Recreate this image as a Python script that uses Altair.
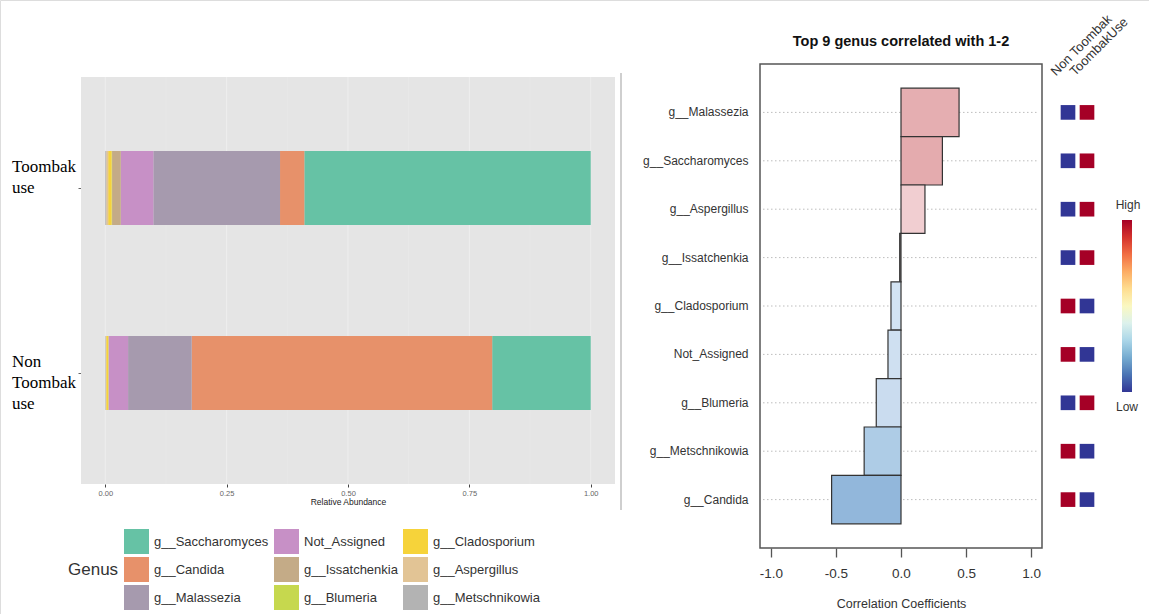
import altair as alt
import pandas as pd

# ---------------- relative abundance (stacked bars) ----------------
groups = ["Toombak use", "Non Toombak use"]
group_labels = ["Toombak\nuse", "Non\nToombak\nuse"]
genera = ["g__Saccharomyces", "g__Candida", "g__Malassezia", "Not_Assigned",
          "g__Issatchenkia", "g__Blumeria", "g__Cladosporium", "g__Aspergillus",
          "g__Metschnikowia"]
abundance_use = [0.590, 0.050, 0.261, 0.067, 0.018, 0.001, 0.007, 0.004, 0.002]
abundance_non = [0.203, 0.619, 0.131, 0.040, 0.0005, 0.0005, 0.004, 0.001, 0.001]
genus_colors = ["#66C2A5", "#E7916A", "#A69AAE", "#C790C6", "#C4AB87",
                "#C6D84E", "#F6D33A", "#E2C495", "#B3B3B3"]
abundance_ticks = [0.0, 0.25, 0.5, 0.75, 1.0]
abundance_minor = [0.125, 0.375, 0.625, 0.875]

# ---------------- correlation panel ----------------
corr_genera = ["g__Malassezia", "g__Saccharomyces", "g__Aspergillus", "g__Issatchenkia",
               "g__Cladosporium", "Not_Assigned", "g__Blumeria", "g__Metschnikowia",
               "g__Candida"]
corr_values = [0.446, 0.318, 0.184, -0.010, -0.077, -0.100, -0.190, -0.283, -0.533]
corr_fills = ["#E5AEB1", "#E4ABAE", "#F1CED1", "#F5E0E2", "#D2E3F3",
              "#CFE0F1", "#CADCEF", "#AECCE6", "#92B7DB"]
corr_ticks = [-1.0, -0.5, 0.0, 0.5, 1.0]
heat_columns = ["Non Toombak", "ToombakUse"]
heat_non = [0, 0, 0, 0, 1, 1, 0, 1, 1]
heat_use = [1, 1, 1, 1, 0, 0, 1, 0, 0]

# ---------------- layout (pixels) ----------------
CANVAS_W, CANVAS_H = 1149, 614
L_X0, L_X1, L_Y0, L_Y1 = 81, 615, 77, 484
R_X0, R_X1, R_Y0, R_Y1 = 760, 1042, 64, 548
SANS = "Liberation Sans"

one = pd.DataFrame({"k": [0]})

# ---- left panel data ----
ab_rows = []
for g, vals in zip(groups, [abundance_use, abundance_non]):
    for i, (gen, v) in enumerate(zip(genera, vals)):
        ab_rows.append({"group": g, "genus": gen, "value": v,
                        "stack": len(genera) - 1 - i})
ab_df = pd.DataFrame(ab_rows)

x_ab = alt.Scale(domain=[-0.05, 1.05], range=[L_X0, L_X1], nice=False, zero=False)
y_ab = alt.Scale(domain=groups, range=[L_Y0, L_Y1], paddingInner=0.6, paddingOuter=0.4)

ab_x_axis = alt.Axis(orient="bottom", offset=L_Y1 - CANVAS_H, values=abundance_ticks,
                     format=".2f", grid=False, domain=False, tickSize=3,
                     tickColor="#444", labelFontSize=7.5, labelColor="#666",
                     labelPadding=2, labelFlush=False, title="Relative Abundance",
                     titleFontSize=8.5, titleFontWeight="normal", titleColor="#222",
                     titlePadding=1, labelFont=SANS, titleFont=SANS)
ab_y_axis = alt.Axis(orient="left", offset=-L_X0, labels=False, domain=False,
                     tickSize=3, tickColor="#666", title=None, grid=False)

panel_bg = alt.Chart(one).mark_rect(fill="#E5E5E5").encode(
    x=alt.value(L_X0), x2=alt.value(L_X1), y=alt.value(L_Y0), y2=alt.value(L_Y1))

grid_major = alt.Chart(pd.DataFrame({"v": abundance_ticks})).mark_rule(
    color="#EEEEEE", strokeWidth=1).encode(
    x=alt.X("v:Q", scale=x_ab, axis=ab_x_axis), y=alt.value(L_Y0), y2=alt.value(L_Y1))
grid_minor = alt.Chart(pd.DataFrame({"v": abundance_minor})).mark_rule(
    color="#E9E9E9", strokeWidth=0.6).encode(
    x=alt.X("v:Q", scale=x_ab, axis=ab_x_axis), y=alt.value(L_Y0), y2=alt.value(L_Y1))

ab_bars = alt.Chart(ab_df).mark_bar().encode(
    x=alt.X("value:Q", stack="zero", scale=x_ab, axis=ab_x_axis),
    y=alt.Y("group:N", scale=y_ab, axis=ab_y_axis),
    color=alt.Color("genus:N", scale=alt.Scale(domain=genera, range=genus_colors),
                    legend=alt.Legend(orient="none", legendX=68, legendY=529, columns=3,
                                      title="Genus", titleOrient="left", titleAnchor="middle",
                                      titleBaseline="middle", titleFontSize=17,
                                      titleFontWeight="normal", titleColor="#333",
                                      titlePadding=5, titleFont=SANS,
                                      symbolType="square", symbolSize=625,
                                      symbolStrokeWidth=0, symbolOpacity=1,
                                      labelFontSize=13, labelColor="#333", labelFont=SANS,
                                      labelOffset=5, rowPadding=3, columnPadding=5)),
    order=alt.Order("stack:Q", sort="ascending"),
)

lab_df = pd.DataFrame({"group": groups, "label": group_labels})
label_style = dict(align="left", baseline="middle", font="Liberation Serif", fontSize=17,
                   lineBreak="\n", lineHeight=21, color="#000")
lab_top = alt.Chart(lab_df).transform_filter(alt.datum.group == groups[0]).mark_text(
    dy=-21, **label_style).encode(
    x=alt.value(12), y=alt.Y("group:N", scale=y_ab, axis=ab_y_axis), text="label:N")
lab_bottom = alt.Chart(lab_df).transform_filter(alt.datum.group == groups[1]).mark_text(
    dy=-11, **label_style).encode(
    x=alt.value(12), y=alt.Y("group:N", scale=y_ab, axis=ab_y_axis), text="label:N")

separator = alt.Chart(one).mark_rule(color="#CFCFCF", strokeWidth=2).encode(
    x=alt.value(621), y=alt.value(73), y2=alt.value(510))

left = alt.layer(panel_bg, grid_minor, grid_major, ab_bars, lab_top, lab_bottom, separator)

# ---- right panel: correlation bars ----
corr_df = pd.DataFrame({"genus": corr_genera, "r": corr_values})
x_r = alt.Scale(domain=[-1.083, 1.083], range=[R_X0, R_X1], nice=False, zero=False)
y_r = alt.Scale(type="band", domain=corr_genera, range=[R_Y0, R_Y1],
                paddingInner=0, paddingOuter=0.5)

minus_fix = "replace(format(datum.value, '.1f'), '\u2212', '-')"
r_x_axis = alt.Axis(orient="bottom", offset=R_Y1 - CANVAS_H, values=corr_ticks,
                    labelExpr=minus_fix, grid=False, domain=False, tickSize=9,
                    tickColor="#555", tickWidth=1.3, labelFontSize=13.5,
                    labelColor="#333", labelPadding=9, labelFlush=False,
                    labelFont=SANS, title="Correlation Coefficients",
                    titleFontSize=12.5, titleFontWeight="normal", titleColor="#333",
                    titlePadding=18, titleFont=SANS)
r_y_axis = alt.Axis(orient="left", offset=-R_X0, domain=False, ticks=False,
                    labelPadding=12, labelFontSize=12, labelColor="#333",
                    labelFont=SANS, title=None, grid=False)

dotted = alt.Chart(corr_df).mark_rule(strokeDash=[1.5, 2.5], color="#BDBDBD",
                                      strokeWidth=1).encode(
    x=alt.value(R_X0 + 3), x2=alt.value(R_X1 - 3),
    y=alt.Y("genus:N", scale=y_r, axis=r_y_axis))

corr_bars = alt.Chart(corr_df).mark_bar(stroke="#333333", strokeWidth=1.2, opacity=1).encode(
    x=alt.X("r:Q", scale=x_r, axis=r_x_axis),
    x2=alt.datum(0),
    y=alt.Y("genus:N", scale=y_r, axis=r_y_axis),
    fill=alt.Fill("genus:N", scale=alt.Scale(domain=corr_genera, range=corr_fills),
                  legend=None),
)

frame = alt.Chart(one).mark_rect(fillOpacity=0, stroke="#555555", strokeWidth=1.5).encode(
    x=alt.value(R_X0), x2=alt.value(R_X1), y=alt.value(R_Y0), y2=alt.value(R_Y1))

corr_title = alt.Chart(one).mark_text(text="Top 9 genus correlated with 1-2",
                                      fontWeight="bold", fontSize=14.5, font=SANS,
                                      color="#111").encode(
    x=alt.XDatum(0, scale=x_r, axis=r_x_axis), y=alt.value(42))

right = alt.layer(dotted, corr_bars, frame, corr_title)

# ---- right panel: group heat squares + colour bar ----
heat_rows = []
for gen, n, u in zip(corr_genera, heat_non, heat_use):
    heat_rows.append({"genus": gen, "column": heat_columns[0], "level": n})
    heat_rows.append({"genus": gen, "column": heat_columns[1], "level": u})
heat_df = pd.DataFrame(heat_rows)

x_h = alt.Scale(type="band", domain=heat_columns, range=[1058.5, 1096.5],
                paddingInner=0, paddingOuter=0)
heat_squares = alt.Chart(heat_df).mark_square(size=215, opacity=1).encode(
    x=alt.X("column:N", scale=x_h,
            axis=alt.Axis(orient="top", offset=-76, labelAngle=315, labelAlign="left",
                          labelBaseline="alphabetic", labelPadding=0, ticks=False,
                          tickSize=0, domain=False, labelOffset=-12, labelFontSize=13,
                          labelColor="#333", labelFont=SANS, title=None, grid=False)),
    y=alt.Y("genus:N", scale=y_r, axis=None),
    color=alt.Color("level:Q", scale=alt.Scale(scheme="redyellowblue", reverse=True,
                                               domain=[0, 1]),
                    legend=alt.Legend(orient="none", legendX=1116, legendY=200,
                                      direction="vertical", gradientLength=172,
                                      gradientThickness=10, gradientStrokeWidth=0,
                                      title="High", titleFontSize=12,
                                      titleFontWeight="normal", titleColor="#333",
                                      titleFont=SANS, titlePadding=8,
                                      titleAnchor="middle", labelExpr="''",
                                      labelFontSize=1)),
)
low_label = alt.Chart(one).mark_text(text="Low", fontSize=12, color="#333",
                                     font=SANS).encode(x=alt.value(1127), y=alt.value(407))

heat = alt.layer(heat_squares, low_label)

chart = alt.layer(left, right, heat).resolve_scale(
    x="independent", y="independent", color="independent", fill="independent"
).properties(
    width=CANVAS_W, height=CANVAS_H,
    autosize=alt.AutoSizeParams(type="none"),
    padding={"left": 0, "top": 0, "right": 0, "bottom": 0},
).configure_view(strokeWidth=0).configure(font=SANS, background="white")

chart.save("out.html", embed_options={"renderer": "svg", "actions": False})
